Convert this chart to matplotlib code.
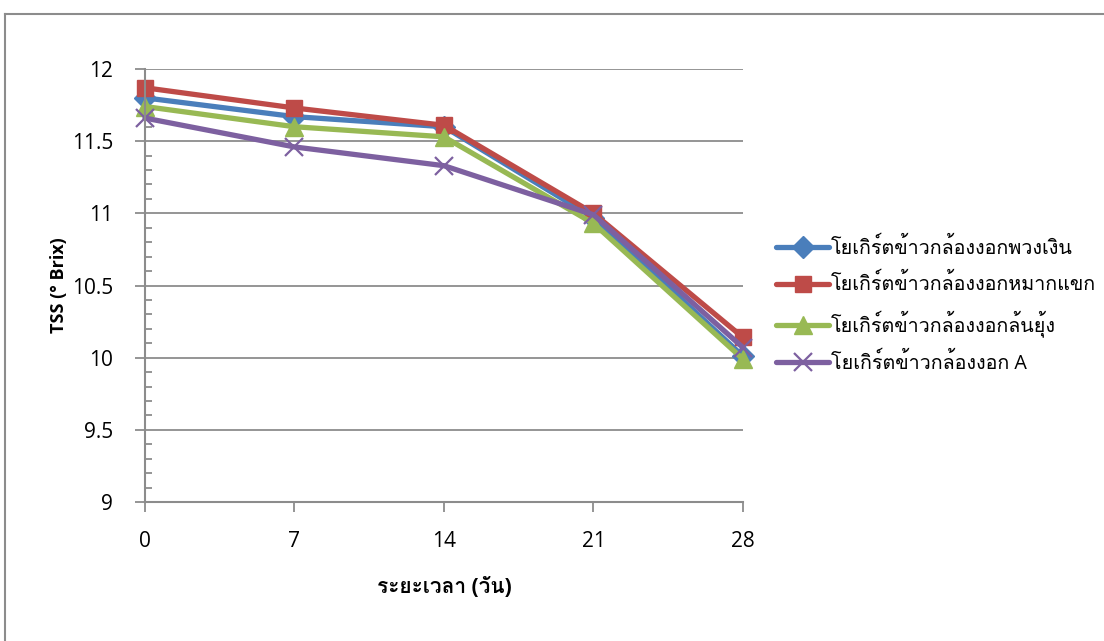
import matplotlib
matplotlib.use("Agg")
import matplotlib.pyplot as plt
from matplotlib import font_manager
from matplotlib.lines import Line2D
from fontTools.ttLib import TTFont

# ข้อมูล TSS ของโยเกิร์ตระหว่างการเก็บรักษา
days = [0, 7, 14, 21, 28]
tss_puangngern = [11.80, 11.67, 11.60, 10.97, 10.01]
tss_makkhaek = [11.87, 11.73, 11.61, 11.00, 10.14]
tss_lonyung = [11.74, 11.60, 11.53, 10.93, 9.99]
tss_a = [11.66, 11.46, 11.33, 10.99, 10.07]

labels = ["โยเกิร์ตข้าวกล้องงอกพวงเงิน", "โยเกิร์ตข้าวกล้องงอกหมากแขก",
          "โยเกิร์ตข้าวกล้องงอกล้นยุ้ง", "โยเกิร์ตข้าวกล้องงอก A"]
y_ticks = [9, 9.5, 10, 10.5, 11, 11.5, 12]
y_ticklabels = ["9", "9.5", "10", "10.5", "11", "11.5", "12"]


def find_thai_font():
    # หาฟอนต์ที่มีตัวอักษรไทย
    found = []
    for f in font_manager.fontManager.ttflist:
        try:
            cmap = TTFont(f.fname, fontNumber=0, lazy=True).getBestCmap()
        except Exception:
            continue
        if cmap and ord("ก") in cmap and ord("เ") in cmap:
            found.append(f.name)
    return found[0] if found else None


thai = find_thai_font()
fams = ["Open Sans"] + ([thai] if thai else []) + ["DejaVu Sans"]
plt.rcParams["font.family"] = fams

fig = plt.figure(figsize=(11.04, 6.41), dpi=100)
ax = fig.add_axes([145 / 1104, 1 - 502 / 641, 598 / 1104, 433 / 641])

series = [
    (tss_puangngern, "#4A7EBB", "D", 11, 1.0),
    (tss_makkhaek, "#BE4B48", "s", 12, 1.0),
    (tss_lonyung, "#98B954", "^", 13, 1.0),
    (tss_a, "#7D60A0", "x", 13, 1.6),
]
for (vals, col, mk, ms, mew), lab in zip(series, labels):
    ax.plot(days, vals, color=col, lw=3.8, marker=mk, markersize=ms,
            markeredgewidth=mew, markeredgecolor=col, markerfacecolor=col,
            label=lab, solid_capstyle="round", clip_on=False)

grey = "#8c8c8c"
ax.set_xlim(0, 28)
ax.set_ylim(9, 12)
ax.set_xticks(days)
ax.set_xticklabels([str(d) for d in days])
ax.set_yticks(y_ticks)
ax.set_yticklabels(y_ticklabels)
ax.set_yticks([9 + 0.1 * i for i in range(31)], minor=True)
ax.grid(axis="y", which="major", color=grey, lw=1.3)
ax.set_axisbelow(True)
for s in ["top", "right"]:
    ax.spines[s].set_visible(False)
for s in ["left", "bottom"]:
    ax.spines[s].set_color(grey)
    ax.spines[s].set_linewidth(1.5)
ax.tick_params(axis="y", which="major", direction="out", length=7, width=1.3,
               color=grey, labelsize=15, pad=16)
ax.tick_params(axis="y", which="minor", direction="in", length=5, width=1.3,
               color=grey)
ax.tick_params(axis="x", which="major", direction="out", length=7, width=1.3,
               color=grey, labelsize=15, pad=14)

ax.set_xlabel("ระยะเวลา (วัน)", fontsize=15, fontweight="bold", labelpad=18)
ax.set_ylabel("TSS (° Brix)", fontsize=13, fontweight="bold", labelpad=3)

ax.legend(loc="center left", bbox_to_anchor=(776 / 1104, 1 - 306 / 641),
          bbox_transform=fig.transFigure, frameon=False, fontsize=14.2,
          handlelength=2.7, handletextpad=0.1, labelspacing=0.78,
          borderaxespad=0, borderpad=0)

# กรอบของแผนภูมิ
fig.add_artist(Line2D([5 / 1104, 5 / 1104], [0, 1 - 14 / 641],
                      transform=fig.transFigure, color=grey, lw=1.5))
fig.add_artist(Line2D([5 / 1104, 1], [1 - 14 / 641, 1 - 14 / 641],
                      transform=fig.transFigure, color=grey, lw=1.5))

fig.savefig("out.png", dpi=100)
